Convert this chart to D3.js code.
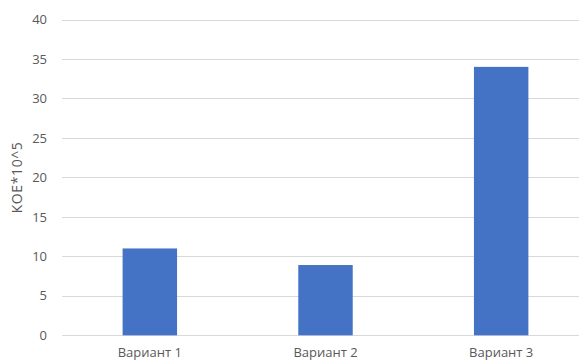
<!DOCTYPE html>
<html><head><meta charset="utf-8">
<script src="https://cdn.jsdelivr.net/npm/d3@7"></script>
<style>body{margin:0;background:#fff;}svg{display:block;}</style>
</head><body>
<svg id="c" width="579" height="362"></svg>
<script>
const categories = ["Вариант 1", "Вариант 2", "Вариант 3"];
const values = [11, 8.9, 34];
const yTicks = [0, 5, 10, 15, 20, 25, 30, 35, 40];
const yTitle = "КОЕ*10^5";

(function () {
const svg = d3.select("#c");
const mLeft = 62, mRight = 589, mTop = 19.5, mBottom = 335.3;
const x = d3.scaleBand().domain(categories).range([mLeft, mRight]).paddingInner(0.69).paddingOuter(0.345);
const y = d3.scaleLinear().domain([0, 40]).range([mBottom, mTop]);
const font = "'Open Sans', sans-serif";

svg.append("g").selectAll("line").data(yTicks).join("line")
  .attr("x1", mLeft).attr("x2", 579)
  .attr("y1", d => Math.round(y(d)) + 0.5).attr("y2", d => Math.round(y(d)) + 0.5)
  .attr("stroke", "#d9d9d9").attr("stroke-width", 1);

const yAxis = d3.axisLeft(y).tickValues(yTicks).tickSize(0).tickPadding(0);
const gy = svg.append("g").attr("transform", `translate(47,0)`).call(yAxis);
gy.select(".domain").remove();
gy.selectAll("text").attr("fill", "#595959").style("font-family", font).style("font-size", "13px");

svg.append("g").selectAll("rect").data(values).join("rect")
  .attr("x", (d, i) => x(categories[i]))
  .attr("width", x.bandwidth())
  .attr("y", d => y(d))
  .attr("height", d => y(0) - y(d))
  .attr("fill", "#4472c4");

const xAxis = d3.axisBottom(x).tickSize(0).tickPadding(0);
const gx = svg.append("g").attr("transform", `translate(0,${mBottom + 12})`).call(xAxis);
gx.select(".domain").remove();
gx.selectAll("text").attr("fill", "#595959").style("font-family", font).style("font-size", "13px");

svg.append("text")
  .attr("transform", `translate(22,${(mTop + mBottom) / 2}) rotate(-90)`)
  .attr("text-anchor", "middle")
  .attr("fill", "#595959")
  .style("font-family", font).style("font-size", "14px").style("letter-spacing", "0.6px")
  .text(yTitle);
})();
</script>
</body></html>
